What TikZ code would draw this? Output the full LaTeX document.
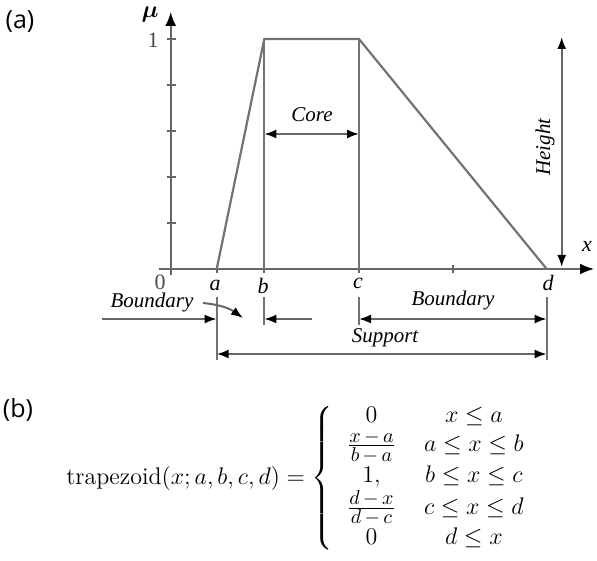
\documentclass[tikz,border=0pt]{standalone}
\usepackage{amsmath}
\usepackage{fontspec}
\newfontfamily\labfont{Liberation Serif}
\newfontfamily\tagfont{Open Sans}
\usetikzlibrary{arrows.meta}
\DeclareMathSizes{12}{12}{10}{7}

\begin{document}
\begin{tikzpicture}[
  x=0.5pt, y=-0.5pt,
  curve/.style={draw=black!55, line width=1.1pt},
  axisline/.style={draw=black!60, line width=0.9pt},
  dim/.style={{Latex[length=6pt,width=4.5pt,color=black]}-{Latex[length=6pt,width=4.5pt,color=black]}, draw=black!60, line width=1pt},
  arrow/.style={-{Latex[length=6pt,width=4.5pt,color=black]}, draw=black!60, line width=1pt},
  lbl/.style={font=\labfont\itshape\fontsize{10.5}{12}\selectfont, inner sep=1pt},
  val/.style={font=\labfont\itshape\fontsize{11}{12}\selectfont, inner sep=1pt},
  tag/.style={font=\tagfont\fontsize{12.5}{15}\selectfont, inner sep=0pt},
]
\useasboundingbox (0,0) rectangle (597,560);

% Points of the trapezoid
\coordinate (O) at (170.7,269);
\coordinate (A) at (216.7,269);
\coordinate (B) at (264.3,269);
\coordinate (C) at (359,269);
\coordinate (D) at (546.7,269);
\coordinate (Btop) at (264.3,39);
\coordinate (Ctop) at (359,39);

% Axes
\coordinate (xstart) at (159,269);
\coordinate (xend) at (594,269);
\coordinate (ystart) at (170.7,275);
\coordinate (yend) at (170.7,12);
\draw[axisline, -{Latex[length=7pt,width=5.5pt,color=black]}] (xstart) -- (xend);
\draw[axisline, -{Latex[length=7pt,width=5.5pt,color=black]}] (ystart) -- (yend);
\foreach \yy in {39,85,131,177,223}
  \draw[axisline] (167,\yy) -- (176,\yy);
\foreach \xx in {216.7,264.3,359,453}
  \draw[axisline] (\xx,265) -- (\xx,273);

% Membership function
\draw[curve] (A) -- (Btop) -- (Ctop) -- (D);
\draw[curve] (Btop) -- (B);
\draw[curve] (Ctop) -- (C);

% Axis labels
\node[font=\large] (mu) at (150,15) {$\boldsymbol{\mu}$};
\node[val, font=\labfont\fontsize{11}{12}\selectfont, text=black!70] (one) at (153,40) {1};
\node[val, font=\labfont\fontsize{11}{12}\selectfont, text=black!70] (zero) at (160,282) {0};
\node[val] (xlab) at (587,246) {x};
\node[val] (la) at (215,285) {a};
\node[val] (lb) at (263,286) {b};
\node[val] (lc) at (358,283) {c};
\node[val] (ld) at (548,283) {d};

% Height and core
\coordinate (htop) at (561.7,37);
\coordinate (hbot) at (561.7,267);
\draw[dim] (htop) -- (hbot);
\node[lbl, rotate=90, fill=white] (height) at (545,147) {Height};
\coordinate (core1) at (264.3,134);
\coordinate (core2) at (359,134);
\draw[dim] (core1) -- (core2);
\node[lbl] (core) at (312,115) {Core};

% Extension lines
\draw[curve] (216.7,297) -- (216.7,360);
\draw[curve] (264.3,297) -- (264.3,325);
\draw[curve] (359,297) -- (359,325);
\draw[curve] (546.7,297) -- (546.7,360);

% Left boundary
\coordinate (lb1) at (102,319);
\coordinate (lb2) at (216.7,319);
\draw[arrow] (lb1) -- (lb2);
\node[lbl] (bndleft) at (152,302) {Boundary};
\coordinate (cv1) at (203,303);
\coordinate (cv2) at (243,318);
\draw[arrow] (cv1) to[bend left=15] (cv2);
\coordinate (rb1) at (312,319);
\coordinate (rb2) at (264.3,319);
\draw[arrow] (rb1) -- (rb2);

% Right boundary and support
\coordinate (bd1) at (359,319);
\coordinate (bd2) at (546.7,319);
\draw[dim] (bd1) -- (bd2);
\node[lbl] (bndright) at (453,300) {Boundary};
\coordinate (sp1) at (216.7,354);
\coordinate (sp2) at (546.7,354);
\draw[dim] (sp1) -- (sp2);
\node[lbl] (support) at (385,338) {Support};

% Panel tags
\node[tag] (taga) at (20,22) {(a)};
\node[tag] (tagb) at (18,410) {(b)};

% Formula
\node[font=\fontsize{12}{14}\selectfont, inner sep=0pt] (formula) at (295,478) {%
  $\mathrm{trapezoid}(x;a,b,c,d) = \left\{
  \begin{array}{@{\hspace{7pt}}c@{\hspace{14pt}}c@{}}
    0 & x\le a\\
    \frac{x\,{-}\,a}{b\,{-}\,a} & a\le x\le b\\
    1, & b\le x\le c\\
    \frac{d\,{-}\,x}{d\,{-}\,c} & c\le x\le d\\
    0 & d\le x
  \end{array}\right.\kern-\nulldelimiterspace$};
\end{tikzpicture}
\end{document}
